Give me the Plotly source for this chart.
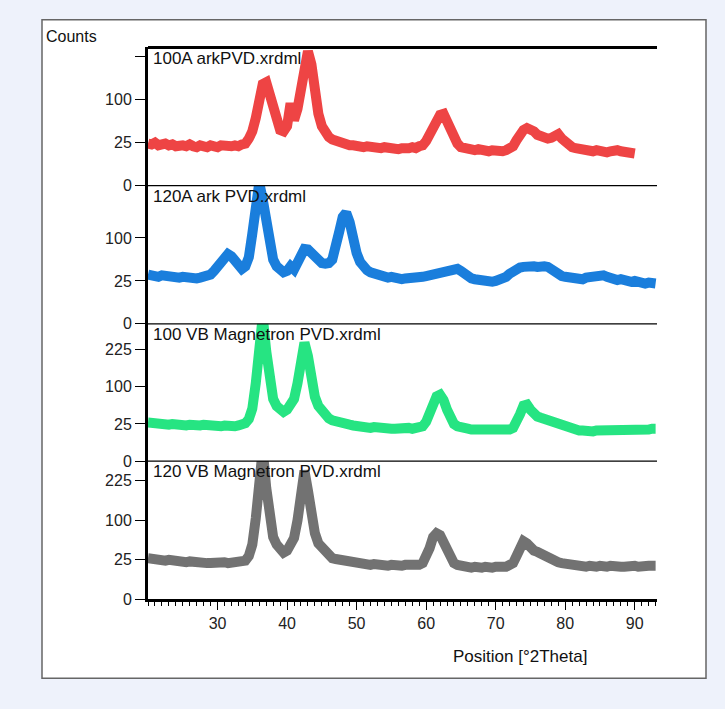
import numpy as np
import plotly.graph_objects as go

# Position grid [°2Theta], 0.5° steps from 20 to 93
positions = [20 + 0.5 * i for i in range(147)]

# Counts (0.5° steps)
counts_100A_ark = [
    24, 23, 25, 22, 23, 24, 22, 23, 21, 23, 22, 21, 23, 21, 20, 22, 21, 20, 22, 21,
    20, 22, 21, 22, 21, 22, 21, 23, 24, 30, 40, 62, 105, 140, 145, 110, 72, 52, 42, 40,
    48, 92, 58, 80, 140, 215, 245, 200, 120, 70, 48, 38, 32, 29, 27, 25, 24, 23, 22, 22,
    21, 21, 20, 21, 20, 19, 20, 19, 20, 19, 18, 19, 18, 19, 18, 19, 20, 19, 21, 22,
    27, 35, 45, 58, 68, 70, 55, 38, 28, 24, 20, 19, 18, 18, 17, 18, 17, 17, 16, 17,
    16, 17, 16, 17, 18, 21, 28, 36, 42, 45, 44, 40, 35, 32, 30, 30, 31, 34, 36, 30,
    25, 22, 20, 19, 18, 18, 17, 17, 16, 17, 16, 16, 15, 16, 17, 17, 16, 15, 16, 15,
    14, None, None, None, None, None, None,
]
counts_120A_ark = [
    33, 31, 32, 30, 32, 31, 30, 31, 30, 29, 30, 29, 28, 29, 28, 29, 30, 31, 33, 38,
    45, 55, 62, 66, 62, 52, 44, 41, 45, 60, 110, 200, 270, 210, 135, 80, 56, 45, 40, 36,
    38, 45, 40, 52, 68, 76, 75, 68, 58, 52, 50, 49, 50, 56, 75, 115, 155, 168, 140, 95,
    68, 52, 44, 39, 36, 34, 32, 31, 30, 29, 30, 28, 29, 27, 28, 28, 27, 29, 28, 30,
    31, 32, 33, 35, 34, 36, 37, 39, 40, 41, 38, 33, 30, 28, 27, 26, 25, 24, 25, 24,
    25, 26, 28, 30, 34, 38, 41, 43, 44, 45, 44, 45, 44, 46, 45, 44, 40, 36, 33, 31,
    30, 29, 28, 27, 28, 27, 29, 30, 31, 32, 31, 32, 30, 28, 27, 26, 27, 25, 26, 24,
    25, 23, 24, 22, 23, 21, 22,
]
counts_100VB_mag = [
    27, 26, 27, 25, 26, 25, 24, 25, 24, 25, 24, 23, 24, 23, 24, 23, 24, 23, 22, 23,
    23, 22, 23, 22, 23, 22, 23, 24, 26, 32, 50, 110, 260, 380, 220, 115, 70, 55, 46, 44,
    48, 55, 70, 110, 200, 255, 200, 120, 75, 55, 45, 38, 33, 30, 28, 27, 26, 25, 24, 23,
    22, 22, 21, 21, 20, 21, 20, 20, 19, 20, 19, 19, 20, 19, 19, 20, 19, 19, 20, 22,
    28, 40, 60, 76, 80, 68, 48, 33, 25, 22, 20, 19, 19, 18, 18, 17, 18, 17, 17, 17,
    17, 17, 17, 18, 18, 20, 27, 40, 56, 58, 48, 40, 36, 34, 32, 30, 28, 26, 24, 22,
    20, 19, 18, 17, 17, 17, 16, 17, 16, 17, 17, 17, 16, 17, 17, 17, 18, 17, 17, 18,
    18, 17, 18, 18, 18, 19, 19,
]
counts_120VB_mag = [
    27, 26, 25, 26, 25, 24, 25, 24, 23, 24, 23, 22, 23, 22, 22, 21, 22, 21, 21, 22,
    21, 21, 22, 21, 21, 22, 21, 22, 24, 30, 48, 105, 240, 360, 200, 100, 62, 48, 38, 35,
    38, 45, 60, 100, 200, 265, 190, 110, 70, 50, 42, 35, 30, 27, 26, 25, 24, 23, 22, 22,
    21, 21, 20, 20, 19, 20, 19, 19, 19, 18, 19, 18, 19, 18, 19, 19, 18, 19, 19, 21,
    28, 42, 62, 70, 66, 52, 35, 25, 21, 19, 18, 17, 17, 16, 17, 16, 16, 17, 16, 16,
    17, 16, 17, 17, 18, 21, 30, 45, 54, 50, 42, 38, 36, 33, 30, 27, 25, 23, 22, 21,
    20, 19, 19, 18, 18, 18, 17, 18, 17, 17, 18, 17, 17, 18, 17, 18, 17, 17, 18, 17,
    18, 17, 18, 18, 18, 18, 18,
]

series_names = ["100A arkPVD.xrdml", "120A ark PVD.xrdml",
                "100 VB Magnetron PVD.xrdml", "120 VB Magnetron PVD.xrdml"]
series_counts = [counts_100A_ark, counts_120A_ark, counts_100VB_mag, counts_120VB_mag]
series_colors = ["#EE4444", "#1A7EDC", "#26E482", "#727272"]
count_ticks = [0, 25, 100, 225]
position_ticks = [30, 40, 50, 60, 70, 80, 90]

W, H = 725, 709
def px(x):
    return x / W
def py(y):
    return 1 - y / H

FONT = "Liberation Sans"
x_left, x_right = 148, 657
panel_px = [(48, 188), (188, 328), (328, 467), (467, 607)]
panel_ymax = [16.1, 16.1, 18.5, 17.5]   # sqrt-scale upper limits

fig = go.Figure()
layout = {}
for i, (name, cnts, col) in enumerate(zip(series_names, series_counts, series_colors)):
    k = "" if i == 0 else str(i + 1)
    yv = [None if c is None else float(np.sqrt(c)) for c in cnts]
    fig.add_trace(go.Scatter(x=positions, y=yv, mode="lines",
                             line=dict(color=col, width=10),
                             xaxis="x" + k, yaxis="y" + k,
                             showlegend=False, hoverinfo="skip"))
    top, bot = panel_px[i]
    labels = [str(t) for t in count_ticks]
    if i == 0:
        labels[-1] = ""
    tv = [float(np.sqrt(t)) for t in count_ticks]
    if i == 1:
        tv = tv[:3]
        labels = labels[:3]
    layout["yaxis" + k] = dict(
        domain=[py(bot), py(top)], range=[0, panel_ymax[i]], anchor="x" + k,
        tickmode="array", tickvals=tv, ticktext=labels,
        ticks="outside", ticklen=10, tickcolor="#000", tickwidth=1,
        showline=True, linecolor="#000", linewidth=3,
        showgrid=False, zeroline=False,
        tickfont=dict(family=FONT, size=16, color="#222"),
    )
    is_bottom = (i == 3)
    xa = dict(domain=[px(x_left), px(x_right)], range=[20, 93.2], anchor="y" + k,
              showgrid=False, zeroline=False, showline=is_bottom,
              linecolor="#000", linewidth=3)
    if is_bottom:
        xa.update(tickmode="array", tickvals=position_ticks,
                  ticks="outside", ticklen=8, tickcolor="#000", tickwidth=1,
                  minor=dict(dtick=1, tick0=20, ticks="outside", ticklen=4,
                             tickcolor="#000", tickwidth=1),
                  tickfont=dict(family=FONT, size=16, color="#222"))
    else:
        xa.update(showticklabels=False, ticks="")
    layout["xaxis" + k] = xa

shapes = [
    dict(type="rect", xref="paper", yref="paper", x0=px(42), x1=px(706),
         y0=py(687), y1=py(20), fillcolor="white",
         line=dict(color="#666", width=1.5), layer="below"),
    dict(type="line", xref="paper", yref="paper", x0=px(x_left), x1=px(x_right),
         y0=py(48), y1=py(48), line=dict(color="#000", width=3)),
]
for yy in [188, 328, 467]:
    shapes.append(dict(type="line", xref="paper", yref="paper",
                       x0=px(x_left), x1=px(x_right), y0=py(yy), y1=py(yy),
                       line=dict(color="#000", width=1.3)))

annotations = [
    dict(text="Counts", xref="paper", yref="paper", x=px(44), y=py(37),
         xanchor="left", yanchor="middle", showarrow=False,
         font=dict(family=FONT, size=16, color="#111")),
    dict(text="Position [°2Theta]", xref="paper", yref="paper", x=px(520), y=py(665),
         xanchor="center", yanchor="middle", showarrow=False,
         font=dict(family=FONT, size=17, color="#111")),
]
for i, name in enumerate(series_names):
    top = panel_px[i][0]
    annotations.append(dict(text=name, xref="paper", yref="paper",
                            x=px(151), y=py(top + 11), xanchor="left", yanchor="middle",
                            showarrow=False,
                            font=dict(family=FONT, size=17, color="#111")))

fig.update_layout(
    width=W, height=H, margin=dict(l=0, r=0, t=0, b=0),
    paper_bgcolor="#EEF2FB", plot_bgcolor="rgba(0,0,0,0)",
    shapes=shapes, annotations=annotations, **layout,
)
fig.write_html("out.html", config={"displayModeBar": False},
               post_script="document.body.style.margin='0';")
